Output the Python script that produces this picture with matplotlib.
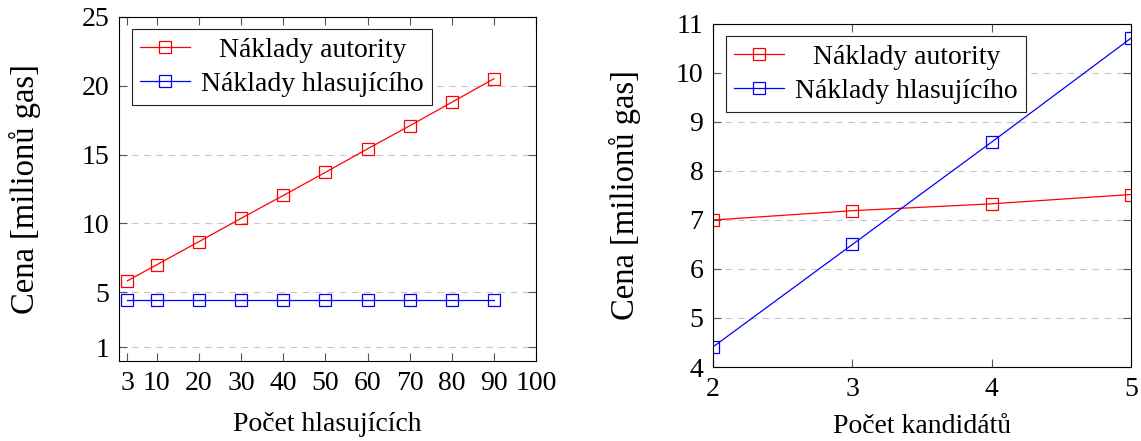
import numpy as np
import matplotlib
matplotlib.use("Agg")
import matplotlib.pyplot as plt

# ─── DATA ─────────────────────────────────────────────────────────
voters       = [3, 10, 20, 30, 40, 50, 60, 70, 80, 90]
voters_auth  = [5.83, 7.0, 8.68, 10.37, 12.03, 13.71, 15.42, 17.09, 18.8, 20.51]
voters_voter = [4.41, 4.41, 4.41, 4.41, 4.41, 4.41, 4.41, 4.41, 4.41, 4.41]

candidates   = [2, 3, 4, 5]
cand_auth    = [7.0, 7.19, 7.33, 7.52]
cand_voter   = [4.41, 6.5, 8.59, 10.71]

labels = ["Náklady autority", "Náklady hlasujícího"]
ylabel = "Cena [milionů gas]"

left_xticks  = [3, 10, 20, 30, 40, 50, 60, 70, 80, 90, 100]
left_yticks  = [1, 5, 10, 15, 20, 25]
right_xticks = [2, 3, 4, 5]
right_yticks = [4, 5, 6, 7, 8, 9, 10, 11]

# ─── STYLE ────────────────────────────────────────────────────────
plt.rcParams['font.family'] = ['Liberation Serif', 'DejaVu Serif']
plt.rcParams['font.size'] = 20
plt.rcParams['axes.linewidth'] = 0.8

fig = plt.figure(figsize=(11.41, 4.41), dpi=100)
ax1 = fig.add_axes([0.1043, 0.1814, 0.3655, 0.7801])
ax2 = fig.add_axes([0.6249, 0.1678, 0.3663, 0.7778])

line_kw = dict(lw=0.9, marker='s', markersize=9, markerfacecolor='none',
               markeredgewidth=0.9)


def style(ax):
    ax.tick_params(direction='in', length=6, width=0.8, color='#555555',
                   top=True, right=True, pad=7)
    ax.grid(axis='y', linestyle=(0, (6, 5)), color='#c8c8c8', lw=0.8)
    ax.set_axisbelow(True)
    for s in ax.spines.values():
        s.set_color('black')
    leg = ax.legend(loc='upper left', bbox_to_anchor=(0.03, 0.965),
                    fancybox=False, edgecolor='#222222', framealpha=1,
                    handlelength=1.8, handletextpad=0.4, borderpad=0.3,
                    labelspacing=0.3, borderaxespad=0)
    leg.get_frame().set_linewidth(0.8)
    return leg


# ─── LEFT: VOTERS ─────────────────────────────────────────────────
ax1.plot(voters, voters_auth, color='red', label=labels[0], **line_kw)
ax1.plot(voters, voters_voter, color='blue', label=labels[1], **line_kw)
ax1.set_xlim(1, 100)
ax1.set_ylim(0, 25)
ax1.set_xticks(left_xticks)
ax1.set_yticks(left_yticks)
ax1.set_xlabel("Počet hlasujících", labelpad=12)
ax1.set_ylabel(ylabel, labelpad=29, fontsize=23.5)
leg1 = style(ax1)

# ─── RIGHT: CANDIDATES ────────────────────────────────────────────
ax2.plot(candidates, cand_auth, color='red', label=labels[0], **line_kw)
ax2.plot(candidates, cand_voter, color='blue', label=labels[1], **line_kw)
ax2.set_xlim(2, 5)
ax2.set_ylim(4, 11)
ax2.set_xticks(right_xticks)
ax2.set_yticks(right_yticks)
ax2.set_xlabel("Počet kandidátů", labelpad=9)
ax2.set_ylabel(ylabel, labelpad=25, fontsize=23.5)
leg2 = style(ax2)

# ─── CENTRE LEGEND ENTRIES (pgfplots look) ────────────────────────
renderer = fig.canvas.get_renderer()
for leg in (leg1, leg2):
    texts = leg.get_texts()
    widths = [t.get_window_extent(renderer).width for t in texts]
    wmax = max(widths)
    for t, w in zip(texts, widths):
        t.set_x((wmax - w) / 2)

fig.savefig("out.png", dpi=100)
